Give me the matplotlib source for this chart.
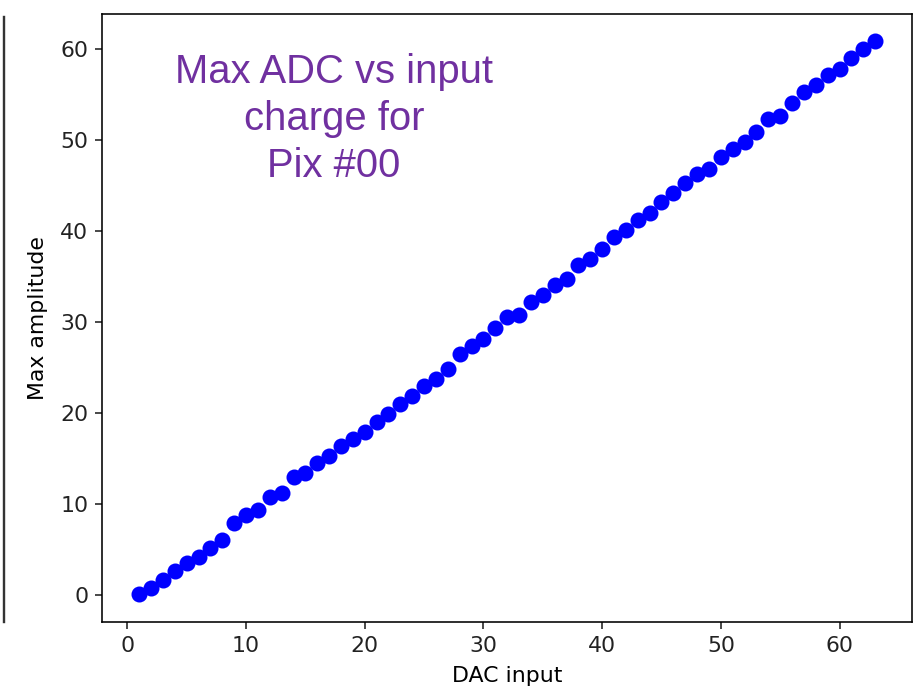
import matplotlib.pyplot as plt
from matplotlib.lines import Line2D

dac_input = list(range(1, 64))
max_amplitude = [
    0.1, 0.8, 1.6, 2.6, 3.5, 4.2, 5.2, 6.0, 7.9, 8.8,
    9.3, 10.8, 11.2, 12.9, 13.4, 14.5, 15.3, 16.4, 17.1, 17.9,
    19.0, 19.9, 21.0, 21.8, 22.9, 23.7, 24.8, 26.5, 27.4, 28.1,
    29.3, 30.5, 30.8, 32.2, 33.0, 34.0, 34.7, 36.2, 36.9, 38.0,
    39.3, 40.1, 41.2, 42.0, 43.2, 44.2, 45.3, 46.2, 46.8, 48.1,
    49.0, 49.8, 50.9, 52.3, 52.6, 54.0, 55.2, 56.0, 57.1, 57.8,
    59.0, 60.0, 60.8,
]
title_text = "Max ADC vs input\ncharge for\nPix #00"

plt.rcParams['font.size'] = 11

fig = plt.figure(figsize=(923 / 144, 693 / 144), dpi=144)
ax = fig.add_axes([0.111, 0.103, 0.877, 0.877])

ax.plot(dac_input, max_amplitude, 'bo', markersize=7)
ax.set_xlabel('DAC input', labelpad=5)
ax.set_ylabel('Max amplitude', labelpad=6)
ax.tick_params(colors='#222222')

# big purple annotation pasted over the plot
fig.text(0.362, 0.829, title_text, ha='center', va='center',
         fontsize=20, color='#7030A0', family='Liberation Sans',
         linespacing=1.3)

# edge of the neighbouring panel at the far left
fig.add_artist(Line2D([0.004, 0.004], [0.103, 0.975], color='#333333', lw=1.2))

fig.savefig('out.png', dpi=144)
